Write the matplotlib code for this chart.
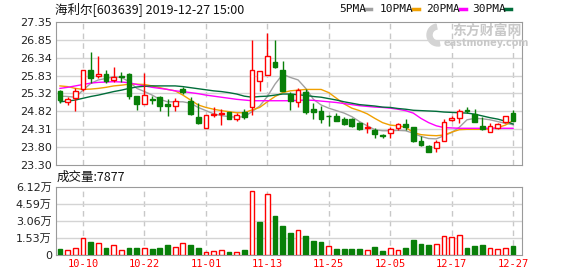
import matplotlib.pyplot as plt
import numpy as np
from matplotlib.lines import Line2D
from matplotlib.patches import Wedge

plt.rcParams['font.family'] = ['DejaVu Sans', 'Noto Sans CJK SC']

title = "海利尔[603639] 2019-12-27 15:00"

# daily candles, 2019-09-30 .. 2019-12-27
opens = [25.40, 25.09, 25.20, 25.45, 25.99, 25.81, 25.87, 25.70, 25.82, 25.87,
         25.25, 25.02, 25.18, 25.22, 25.02, 24.97, 25.45, 25.11, 24.66, 24.34,
         24.72, 24.75, 24.79, 24.61, 24.80, 24.93, 25.67, 25.84, 26.23, 25.99,
         25.31, 25.09, 25.38, 24.90, 24.84, 24.70, 24.69, 24.60, 24.60, 24.50,
         24.34, 24.30, 24.14, 24.20, 24.34, 24.45, 24.37, 23.97, 23.83, 23.78,
         23.99, 24.58, 24.64, 24.85, 24.74, 24.41, 24.23, 24.34, 24.53, 24.78]
closes = [25.14, 25.16, 25.40, 25.99, 25.77, 25.87, 25.69, 25.78, 25.79, 25.25,
          25.03, 25.28, 25.15, 24.97, 24.96, 25.11, 25.36, 24.75, 24.50, 24.71,
          24.75, 24.77, 24.60, 24.72, 24.65, 25.98, 25.95, 26.38, 26.08, 25.40,
          25.12, 25.42, 24.81, 24.80, 24.60, 24.68, 24.56, 24.46, 24.41, 24.31,
          24.37, 24.18, 24.11, 24.31, 24.45, 24.37, 23.97, 23.87, 23.67, 23.95,
          24.53, 24.64, 24.84, 24.83, 24.53, 24.31, 24.41, 24.45, 24.69, 24.56]
highs = [25.42, 25.22, 25.47, 25.99, 26.49, 26.38, 25.99, 26.08, 25.94, 25.91,
         25.25, 25.91, 25.25, 25.25, 25.16, 25.21, 25.52, 25.23, 25.05, 24.71,
         24.95, 24.88, 24.79, 24.78, 24.88, 26.83, 25.95, 27.04, 26.83, 26.24,
         25.38, 25.47, 25.44, 25.07, 24.97, 24.72, 24.77, 24.65, 24.62, 24.53,
         24.53, 24.34, 24.17, 24.37, 24.48, 24.60, 24.37, 24.11, 23.87, 24.01,
         24.60, 24.69, 24.88, 24.93, 24.88, 24.67, 24.48, 24.48, 24.69, 24.86]
lows = [25.07, 25.00, 24.84, 25.40, 25.61, 25.75, 25.61, 25.66, 25.66, 25.16,
        24.86, 25.02, 25.02, 24.84, 24.70, 24.84, 25.31, 24.72, 24.47, 24.34,
        24.67, 24.42, 24.60, 24.56, 24.60, 24.72, 25.40, 25.84, 26.05, 25.40,
        24.86, 24.93, 24.75, 24.60, 24.50, 24.41, 24.55, 24.43, 24.39, 24.30,
        24.22, 24.06, 24.06, 24.06, 24.30, 24.30, 23.94, 23.83, 23.66, 23.68,
        23.97, 24.56, 24.48, 24.77, 24.52, 24.30, 24.23, 24.31, 24.50, 24.56]
prev_close = 25.30  # close before the first day shown (guess)

# moving averages as drawn
ma5 = [25.25, 25.24, 25.22, 25.42, 25.61, 25.71, 25.75, 25.80, 25.78, 25.66,
       25.47, 25.38, 25.28, 25.16, 25.09, 25.09, 25.09, 25.05, 24.93, 24.84,
       24.75, 24.70, 24.67, 24.65, 24.67, 24.81, 24.97, 25.24, 25.59, 25.87,
       25.78, 25.71, 25.47, 25.16, 25.00, 24.91, 24.84, 24.77, 24.67, 24.53,
       24.41, 24.30, 24.27, 24.27, 24.28, 24.27, 24.20, 24.11, 24.05, 24.04,
       24.13, 24.22, 24.37, 24.58, 24.62, 24.61, 24.58, 24.53, 24.48, 24.44]
ma10 = [25.54, 25.52, 25.47, 25.44, 25.45, 25.47, 25.50, 25.54, 25.56, 25.59,
        25.59, 25.58, 25.54, 25.49, 25.44, 25.40, 25.28, 25.14, 25.00, 24.93,
        24.88, 24.84, 24.81, 24.78, 24.78, 24.86, 24.93, 25.09, 25.24, 25.35,
        25.40, 25.42, 25.44, 25.44, 25.44, 25.35, 25.19, 25.03, 24.91, 24.84,
        24.75, 24.62, 24.50, 24.43, 24.41, 24.37, 24.22, 24.16, 24.14, 24.13,
        24.15, 24.23, 24.30, 24.31, 24.31, 24.31, 24.32, 24.36, 24.43, 24.56]
ma20 = [25.47, 25.50, 25.54, 25.58, 25.62, 25.64, 25.65, 25.66, 25.65, 25.63,
        25.58, 25.54, 25.50, 25.47, 25.44, 25.40, 25.38, 25.35, 25.32, 25.28,
        25.25, 25.22, 25.19, 25.16, 25.14, 25.12, 25.12, 25.12, 25.12, 25.12,
        25.12, 25.13, 25.14, 25.13, 25.11, 25.09, 25.07, 25.04, 25.01, 24.98,
        24.96, 24.94, 24.93, 24.91, 24.88, 24.84, 24.77, 24.62, 24.50, 24.41,
        24.36, 24.35, 24.34, 24.34, 24.34, 24.34, 24.34, 24.34, 24.34, 24.34]
ma30 = [25.09, 25.11, 25.14, 25.19, 25.24, 25.28, 25.33, 25.38, 25.42, 25.47,
        25.51, 25.53, 25.54, 25.54, 25.54, 25.54, 25.52, 25.49, 25.46, 25.43,
        25.40, 25.38, 25.35, 25.31, 25.25, 25.22, 25.24, 25.25, 25.28, 25.31,
        25.31, 25.29, 25.27, 25.24, 25.22, 25.18, 25.14, 25.09, 25.05, 25.01,
        24.99, 24.97, 24.94, 24.93, 24.90, 24.88, 24.85, 24.84, 24.83, 24.82,
        24.80, 24.79, 24.78, 24.77, 24.74, 24.69, 24.64, 24.60, 24.54, 24.46]

# volume, 万手
vol = [0.54, 0.42, 0.60, 1.49, 1.13, 1.05, 0.63, 0.87, 0.42, 0.63,
       0.63, 0.60, 0.54, 0.63, 0.87, 0.69, 1.11, 0.87, 0.63, 0.24,
       0.39, 0.48, 0.24, 0.24, 0.42, 5.73, 2.96, 5.46, 3.55, 2.60,
       1.94, 2.24, 1.70, 1.25, 1.16, 0.81, 0.54, 0.54, 0.54, 0.54,
       0.42, 0.72, 0.36, 0.63, 0.45, 0.63, 1.34, 0.99, 0.90, 0.99,
       1.70, 1.61, 1.79, 0.63, 0.81, 0.90, 0.63, 0.54, 0.63, 0.7877]
last_vol = 7877

tick_idx = [3, 11, 19, 27, 35, 43, 51, 59]
tick_lab = ["10-10", "10-22", "11-01", "11-13", "11-25", "12-05", "12-17", "12-27"]
price_lab = ["23.30", "23.80", "24.31", "24.82", "25.32", "25.83", "26.34", "26.85", "27.35"]
vol_lab = ["0", "1.53万", "3.06万", "4.59万", "6.12万"]

RED = "#ff0000"
GREEN = "#087f08"
W, H = 578, 276

fig = plt.figure(figsize=(W / 100, H / 100), dpi=100)
ax = fig.add_axes([56 / W, 1 - 165 / H, 466 / W, 143 / H])
axv = fig.add_axes([56 / W, 1 - 255 / H, 466 / W, 68 / H])

x = np.arange(len(opens))
o, c, hi, lo = map(np.array, (opens, closes, highs, lows))
up = c > o

# candles
ax.vlines(x, lo, hi, colors=np.where(up, RED, GREEN), lw=1, zorder=3)
body = np.maximum(np.abs(c - o), 0.015)
ax.bar(x[up], body[up], 0.62, bottom=np.minimum(o, c)[up],
       facecolor="white", edgecolor=RED, lw=1, zorder=4)
ax.bar(x[~up], body[~up], 0.62, bottom=np.minimum(o, c)[~up],
       facecolor=GREEN, edgecolor=GREEN, lw=1, zorder=4)

ma_cols = ["#a0a0a0", "#f0a000", "#ff00ff", "#006d3a"]
for ma, col in zip([ma5, ma10, ma20, ma30], ma_cols):
    ax.plot(x, ma, color=col, lw=1, zorder=2)

# volume colour follows close vs previous close
pc = np.concatenate([[prev_close], c[:-1]])
vup = c >= pc
v = np.array(vol)
axv.bar(x[vup], v[vup], 0.62, facecolor="white", edgecolor=RED, lw=1, zorder=3)
axv.bar(x[~vup], v[~vup], 0.62, facecolor=GREEN, edgecolor=GREEN, lw=1, zorder=3)

for a in (ax, axv):
    a.set_xlim(-0.52, 60.16)
    for s in a.spines.values():
        s.set_color("#9a9a9a")
    a.tick_params(length=0, labelsize=8, colors="#222222", pad=3)
    for t in tick_idx:
        a.axvline(t, color="#c8c8c8", lw=1, ls=(0, (4, 3)), zorder=1)

ax.set_ylim(23.30, 27.35)
pt = np.linspace(23.30, 27.35, len(price_lab))
ax.set_yticks(pt, price_lab)
for y in pt[1:-1]:
    ax.axhline(y, color="#d4d4d4", lw=1, zorder=1)
ax.set_xticks([])

axv.set_ylim(0, 6.12)
vt = np.linspace(0, 6.12, len(vol_lab))
axv.set_yticks(vt, vol_lab)
for y in vt[1:-1]:
    axv.axhline(y, color="#d4d4d4", lw=1, zorder=1)
axv.set_xticks(tick_idx, tick_lab)
for lab in axv.get_xticklabels():
    lab.set_color(RED)
    lab.set_fontfamily("DejaVu Sans Mono")
    lab.set_fontsize(7.5)

# header
fig.text(55 / W, 1 - 9 / H, title, fontsize=9, va="center", color="#111111",
         family=["Noto Sans CJK SC", "DejaVu Sans"])
fig.text(57 / W, 1 - 177 / H, "成交量:%d" % last_vol, fontsize=9, va="center",
         color="#111111", family=["Noto Sans CJK SC", "DejaVu Sans"])

leg = [("5PMA", 339, 365), ("10PMA", 380, 413), ("20PMA", 426, 460), ("30PMA", 472, 505)]
for (name, tx, lx), col in zip(leg, ma_cols):
    fig.text(tx / W, 1 - 9 / H, name, fontsize=8, va="center", color="#111111",
             family="DejaVu Sans Mono")
    fig.add_artist(Line2D([lx / W, (lx + 6) / W], [1 - 9 / H] * 2, color=col, lw=2.5))

# watermark
logo = Wedge((438, H - 35), 11, 100, 280, width=5, color="#d4d4d4",
             transform=None, zorder=5)
fig.add_artist(logo)
fig.text(487 / W, 1 - 31 / H, "东方财富网", fontsize=10, ha="center", va="center",
         color="#c8c8c8", weight="bold", family=["Noto Sans CJK SC"], zorder=5)
fig.text(486 / W, 1 - 43 / H, "eastmoney.com", fontsize=7, ha="center", va="center",
         color="#c8c8c8", weight="bold", zorder=5)

fig.savefig("out.png", dpi=100)
